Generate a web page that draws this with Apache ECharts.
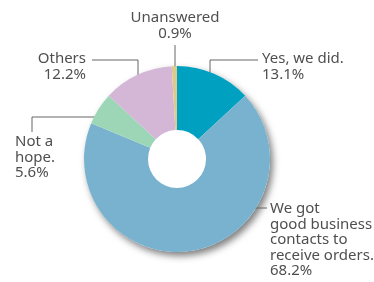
<!DOCTYPE html>
<html>
<head>
<meta charset="utf-8">
<style>
  html, body { margin: 0; padding: 0; background: #fff; }
  #chart { width: 374px; height: 282px; }
</style>
<script src="https://cdn.jsdelivr.net/npm/echarts@6/dist/echarts.min.js"></script>
</head>
<body>
<div id="chart"></div>
<script>
    // 数据
    var names = ['Yes, we did.', 'We got\ngood business\ncontacts to\nreceive orders.', 'Not a\nhope.', 'Others', 'Unanswered'];
    var values = [13.1, 68.2, 5.6, 12.2, 0.9];
    var colors = ['#00a0c1', '#79b2cf', '#9dd6b6', '#d4b6d6', '#dccb8c'];

    // 标签位置
    var labelPos = [
        {x: 262, y: 51, align: 'left', line: [[210, 76], [210, 60], [258, 60]]},
        {x: 270, y: 201, align: 'left', line: [[245, 208], [256, 208], [267, 208]]},
        {x: 15, y: 134, align: 'left', line: [[100, 117], [32, 117], [32, 132]]},
        {x: 86, y: 51, align: 'right', line: [[138, 82], [138, 60], [92, 60]]},
        {x: 175, y: 10, align: 'center', line: [[175, 67], [175, 56], [175, 45]]}
    ];

    var myChart = echarts.init(document.getElementById('chart'));

    var data = [];
    for (var i = 0; i < values.length; i++) {
        data.push({value: values[i], name: names[i], itemStyle: {color: colors[i]}});
    }

    var option = {
        animation: false,
        series: [
            {
                // 阴影底盘
                type: 'pie',
                silent: true,
                center: [177, 159],
                radius: [0, 93],
                z: 1,
                label: {show: false},
                labelLine: {show: false},
                itemStyle: {
                    color: '#fff',
                    shadowBlur: 7,
                    shadowOffsetX: 3,
                    shadowOffsetY: 4,
                    shadowColor: 'rgba(0,0,0,0.5)'
                },
                data: [{value: 1, name: ''}]
            },
            {
                type: 'pie',
                center: [177, 159],
                radius: [29, 93],
                startAngle: 90,
                clockwise: true,
                z: 2,
                avoidLabelOverlap: false,
                label: {
                    show: true,
                    position: 'outside',
                    formatter: function (p) { return p.name + '\n' + p.value + '%'; },
                    fontFamily: 'Noto Sans',
                    fontSize: 15,
                    lineHeight: 15.5,
                    color: '#4f4f4f'
                },
                labelLine: {
                    show: true,
                    lineStyle: {color: '#666', width: 1}
                },
                labelLayout: function (params) {
                    var p = labelPos[params.dataIndex];
                    return {
                        x: p.x,
                        y: p.y,
                        align: p.align,
                        verticalAlign: 'top',
                        labelLinePoints: p.line
                    };
                },
                itemStyle: {borderWidth: 0},
                emphasis: {disabled: true},
                data: data
            }
        ]
    };
    myChart.setOption(option);
</script>
</body>
</html>
